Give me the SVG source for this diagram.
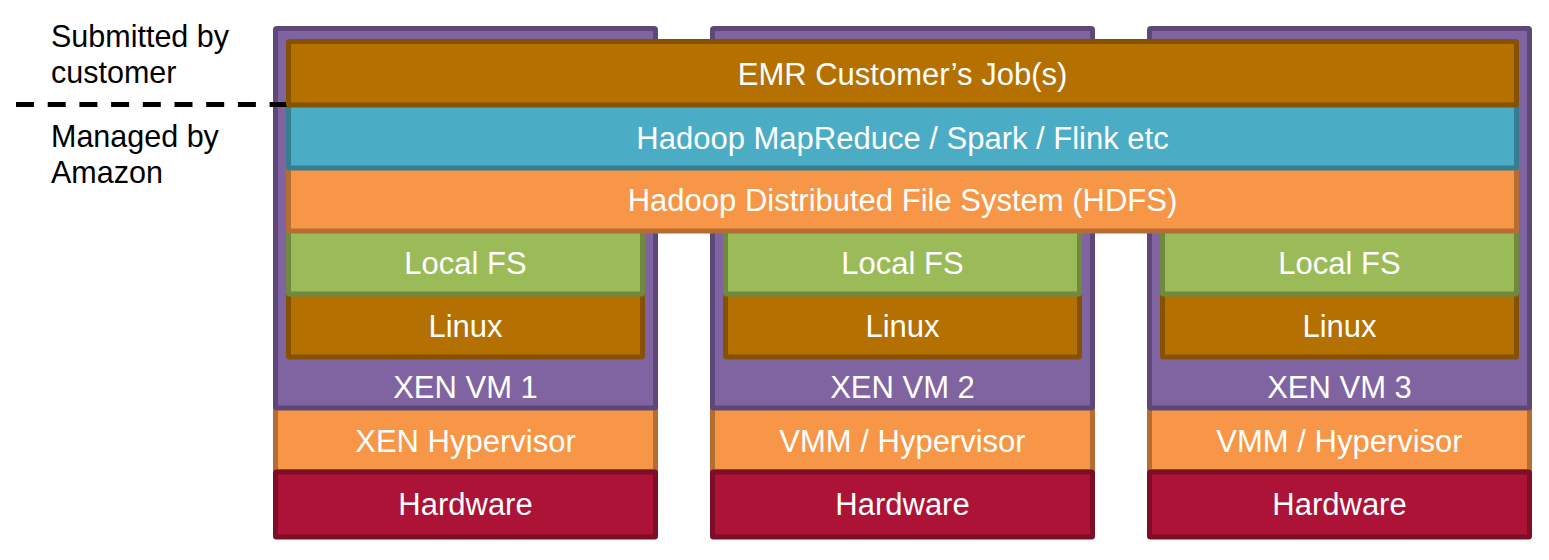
<svg xmlns="http://www.w3.org/2000/svg" width="1549" height="560" viewBox="0 0 1549 560">
<style>
  .vm { fill: #8064A2; stroke: #5D4879; stroke-width: 5; }
  .hyp { fill: #F79646; stroke: #B66D33; stroke-width: 5; }
  .hw { fill: #AD1337; stroke: #7E0D27; stroke-width: 5; }
  .linux, .emr { fill: #B47000; stroke: #845200; stroke-width: 5; }
  .lfs { fill: #9BBB59; stroke: #71893F; stroke-width: 5; }
  .hdfs { fill: #F79646; stroke: #B66D33; stroke-width: 5; }
  .hadoop { fill: #4BACC6; stroke: #357E92; stroke-width: 5; }
  .t { font-family: "Liberation Sans", Arial, sans-serif; font-size: 31px; fill: #FFFFFF; text-anchor: middle; }
  .side { font-family: "Liberation Sans", Arial, sans-serif; font-size: 30.5px; fill: #000000; }
</style>

<!-- Hypervisors -->
<g id="hyp1"><rect class="hyp" x="275.5" y="407.5" width="380" height="64"/><text class="t" x="465.5" y="451.5">XEN Hypervisor</text></g>
<g id="hyp2"><rect class="hyp" x="712.5" y="407.5" width="380" height="64"/><text class="t" x="902.5" y="451.5">VMM / Hypervisor</text></g>
<g id="hyp3"><rect class="hyp" x="1149.5" y="407.5" width="380" height="64"/><text class="t" x="1339.5" y="451.5">VMM / Hypervisor</text></g>

<!-- Hardware -->
<g id="hw1"><rect class="hw" x="275.5" y="472" width="380" height="65" rx="1"/><text class="t" x="465.5" y="515">Hardware</text></g>
<g id="hw2"><rect class="hw" x="712.5" y="472" width="380" height="65" rx="1"/><text class="t" x="902.5" y="515">Hardware</text></g>
<g id="hw3"><rect class="hw" x="1149.5" y="472" width="380" height="65" rx="1"/><text class="t" x="1339.5" y="515">Hardware</text></g>

<!-- VMs -->
<g id="vm1"><rect class="vm" x="275.5" y="28.5" width="380" height="379.5" rx="1.5"/><text class="t" x="465.5" y="398">XEN VM 1</text></g>
<g id="vm2"><rect class="vm" x="712.5" y="28.5" width="380" height="379.5" rx="1.5"/><text class="t" x="902.5" y="398">XEN VM 2</text></g>
<g id="vm3"><rect class="vm" x="1149.5" y="28.5" width="380" height="379.5" rx="1.5"/><text class="t" x="1339.5" y="398">XEN VM 3</text></g>

<!-- Linux -->
<g id="linux1"><rect class="linux" x="288.5" y="293.5" width="354" height="63.5" rx="1"/><text class="t" x="465.5" y="337">Linux</text></g>
<g id="linux2"><rect class="linux" x="725.5" y="293.5" width="354" height="63.5" rx="1"/><text class="t" x="902.5" y="337">Linux</text></g>
<g id="linux3"><rect class="linux" x="1162.5" y="293.5" width="354" height="63.5" rx="1"/><text class="t" x="1339.5" y="337">Linux</text></g>

<!-- Local FS -->
<g id="lfs1"><rect class="lfs" x="288.5" y="230.5" width="354" height="63.5" rx="1"/><text class="t" x="465.5" y="273.5">Local FS</text></g>
<g id="lfs2"><rect class="lfs" x="725.5" y="230.5" width="354" height="63.5" rx="1"/><text class="t" x="902.5" y="273.5">Local FS</text></g>
<g id="lfs3"><rect class="lfs" x="1162.5" y="230.5" width="354" height="63.5" rx="1"/><text class="t" x="1339.5" y="273.5">Local FS</text></g>

<!-- Shared layers -->
<g id="hdfs"><rect class="hdfs" x="288.5" y="167.5" width="1228" height="63.5" rx="1"/><text class="t" x="902.5" y="211">Hadoop Distributed File System (HDFS)</text></g>
<g id="hadoop"><rect class="hadoop" x="288.5" y="104.5" width="1228" height="63.5" rx="1"/><text class="t" x="902.5" y="148.5">Hadoop MapReduce / Spark / Flink etc</text></g>

<!-- Separator line -->
<g id="connectors">
  <line x1="16" y1="104.5" x2="287" y2="104.5" stroke="#000000" stroke-width="5" stroke-dasharray="18 13.7"/>
</g>

<g id="emr"><rect class="emr" x="288.5" y="41.5" width="1228" height="63.5" rx="1"/><text class="t" x="902.5" y="84.5">EMR Customer’s Job(s)</text></g>

<!-- Side labels -->
<g id="submitted">
  <text class="side" x="51" y="46.7">Submitted by</text>
  <text class="side" x="51" y="83.3">customer</text>
</g>
<g id="managed">
  <text class="side" x="51" y="146.7">Managed by</text>
  <text class="side" x="51" y="183.3">Amazon</text>
</g>
</svg>
